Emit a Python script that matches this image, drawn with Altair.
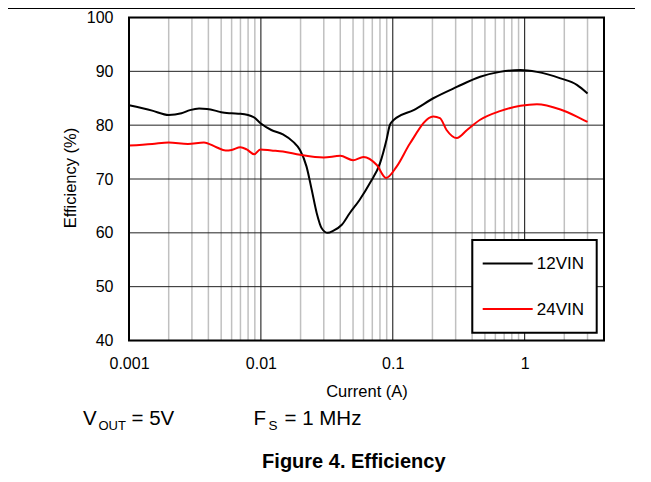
import altair as alt
import pandas as pd

FONT = "Liberation Sans, Arial, Helvetica, sans-serif"

# ---------------- data ----------------
series_names = ["12VIN", "24VIN"]
series_colors = ["#000000", "#ff0000"]

current_12 = [0.001, 0.0015, 0.002, 0.0025, 0.0029, 0.0034, 0.0039, 0.0045, 0.005, 0.006,
              0.007, 0.0088, 0.01, 0.012, 0.0147, 0.0176, 0.0198, 0.0222, 0.0243, 0.0265,
              0.029, 0.0321, 0.0355, 0.0411, 0.047, 0.056, 0.067, 0.080, 0.0899, 0.095,
              0.1, 0.107, 0.144, 0.203, 0.306, 0.46, 0.65, 0.93, 1.24, 1.87, 2.49, 3.0]
eff_12 = [83.7, 82.7, 81.9, 82.2, 82.8, 83.1, 83.0, 82.7, 82.4, 82.2,
          82.1, 81.5, 80.3, 79.1, 78.3, 76.9, 75.4, 72.3, 68.0, 63.7,
          60.8, 60.0, 60.4, 61.5, 63.6, 66.1, 69.2, 72.9, 77.4, 80.0,
          80.8, 81.4, 82.8, 85.0, 87.1, 89.0, 89.9, 90.25, 89.9, 88.7, 87.5, 85.9]

current_24 = [0.001, 0.0015, 0.002, 0.0028, 0.0037, 0.0046, 0.0054, 0.006, 0.0070, 0.0078,
              0.0089, 0.0099, 0.012, 0.0147, 0.0198, 0.0299, 0.040, 0.050, 0.060, 0.0757,
              0.089, 0.107, 0.135, 0.203, 0.228, 0.256, 0.306, 0.366, 0.46, 0.65,
              0.93, 1.24, 1.87, 2.49, 3.0]
eff_24 = [76.2, 76.5, 76.8, 76.5, 76.8, 75.9, 75.3, 75.4, 75.9, 75.5,
          74.6, 75.5, 75.3, 75.1, 74.5, 74.0, 74.3, 73.5, 74.1, 72.6,
          70.2, 72.3, 76.6, 81.6, 81.3, 79.1, 77.6, 79.1, 81.0, 82.6,
          83.6, 83.9, 82.9, 81.6, 80.6]

x_major = [0.001, 0.01, 0.1, 1]
x_minor = [m * 10.0 ** e for e in (-3, -2, -1) for m in range(2, 10)] + [2, 3]
y_ticks = [40, 50, 60, 70, 80, 90, 100]

# ---------------- geometry ----------------
W, H = 475, 323

df = pd.concat([
    pd.DataFrame({"current": current_12, "eff": eff_12, "series": series_names[0]}),
    pd.DataFrame({"current": current_24, "eff": eff_24, "series": series_names[1]}),
])

xs = alt.Scale(type="log", domain=[0.001, 4], nice=False)
ys = alt.Scale(domain=[40, 100], nice=False, zero=False)

x_axis = alt.Axis(values=x_major, format="~g", grid=False, ticks=False, domain=False,
                  labelFlush=False, labelOverlap=False,
                  labelFont=FONT, labelFontSize=16, labelColor="black", labelPadding=15,
                  title="Current (A)", titleFont=FONT, titleFontSize=16.5,
                  titleFontWeight="normal", titleColor="black",
                  titleBaseline="alphabetic", titleY=55.5, titleX=W / 2)
y_axis = alt.Axis(values=y_ticks, format="d", grid=False, ticks=False, domain=False,
                  labelFlush=False, labelOverlap=False,
                  labelFont=FONT, labelFontSize=16, labelColor="black", labelPadding=16,
                  title="Efficiency (%)", titleFont=FONT, titleFontSize=16.5,
                  titleFontWeight="normal", titleColor="black",
                  titleBaseline="alphabetic", titleX=-54, titleY=160)

one = alt.Data(values=[{"a": 1}])

minor_grid = alt.Chart(pd.DataFrame({"v": x_minor})).mark_rule(
    color="#c0c0c0", strokeWidth=1.5
).encode(x=alt.X("v:Q", scale=xs, axis=x_axis), y=alt.value(0), y2=alt.value(H))

major_grid = alt.Chart(pd.DataFrame({"v": x_major})).mark_rule(
    color="#333333", strokeWidth=1.2
).encode(x=alt.X("v:Q", scale=xs, axis=x_axis), y=alt.value(0), y2=alt.value(H))

h_grid = alt.Chart(pd.DataFrame({"v": y_ticks})).mark_rule(
    color="#222222", strokeWidth=1
).encode(y=alt.Y("v:Q", scale=ys, axis=y_axis), x=alt.value(0), x2=alt.value(W))

lines = alt.Chart(df).mark_line(strokeWidth=2, interpolate="monotone").encode(
    x=alt.X("current:Q", scale=xs, axis=x_axis),
    y=alt.Y("eff:Q", scale=ys, axis=y_axis),
    color=alt.Color("series:N", scale=alt.Scale(domain=series_names, range=series_colors),
                    legend=None),
    detail="series:N",
)

frame = alt.Chart(one).mark_rect(fill=None, stroke="black", strokeWidth=2).encode(
    x=alt.value(0), x2=alt.value(W), y=alt.value(0), y2=alt.value(H))

# legend box
leg_box = alt.Chart(one).mark_rect(fill="white", stroke="black", strokeWidth=2).encode(
    x=alt.value(343.3), x2=alt.value(467.7), y=alt.value(222.5), y2=alt.value(315.2))

leg_layers = []
leg_y = [246.0, 291.5]
for name, col, yy in zip(series_names, series_colors, leg_y):
    d = pd.DataFrame({"series": [name]})
    leg_layers.append(alt.Chart(d).mark_rule(color=col, strokeWidth=2).encode(
        x=alt.value(353.7), x2=alt.value(403.7), y=alt.value(yy)))
    leg_layers.append(alt.Chart(d).mark_text(
        font=FONT, fontSize=17, align="left", baseline="middle", color="black"
    ).encode(text="series:N", x=alt.value(407.8), y=alt.value(yy + 0.5)))

def txt(s, x, y, size, weight="normal", align="left"):
    return alt.Chart(one).mark_text(
        text=s, font=FONT, fontSize=size, fontWeight=weight, align=align,
        baseline="alphabetic", color="black"
    ).encode(x=alt.value(x), y=alt.value(y))

top_line = alt.Chart(one).mark_rule(color="black", strokeWidth=1).encode(
    x=alt.value(-121), x2=alt.value(506), y=alt.value(-9))

annotations = [
    txt("V", -46, 407.5, 20.5),
    txt("OUT", -30.5, 412.5, 13),
    txt("= 5V", 2.5, 407.5, 20.5),
    txt("F", 124.4, 407.5, 20.5),
    txt("S", 139.6, 412.5, 13.5),
    txt("= 1 MHz", 155.5, 407.5, 20.5),
    txt("Figure 4. Efficiency", 224.8, 450.5, 20, weight="bold", align="center"),
]

chart = alt.layer(
    minor_grid, major_grid, h_grid, lines, leg_box, *leg_layers, frame, top_line, *annotations
).properties(
    width=W, height=H,
    autosize=alt.AutoSizeParams(type="none"),
    padding={"left": 121, "top": 9.5, "right": 39, "bottom": 133},
).configure_view(stroke=None).configure(background="white")

chart.save("out.html", embed_options={"renderer": "svg", "actions": False})
